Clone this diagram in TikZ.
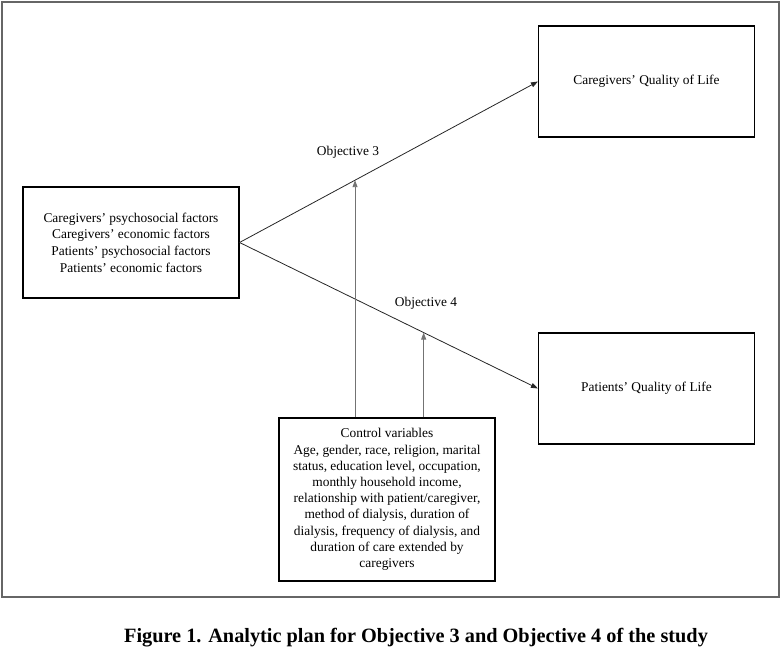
\documentclass[tikz,border=0pt]{standalone}
\usepackage{fontspec}
\setmainfont{Liberation Serif}
\usetikzlibrary{arrows.meta}
\begin{document}
\begin{tikzpicture}[x=1pt,y=-1pt,
  box/.style={draw=black,line width=1.1pt,minimum width=216pt,align=center,inner sep=0pt,font=\fontsize{13.4}{16.7}\selectfont},
  link/.style={draw=black!85,line width=0.8pt,-{Triangle[length=7pt,width=5pt]}},
  ctrl/.style={draw=black!55,line width=0.9pt,-{Triangle[length=7pt,width=5pt]}},
  lbl/.style={font=\fontsize{13.4}{15}\selectfont,inner sep=0pt}]
\useasboundingbox (0,0) rectangle (782,650);
\draw[black!60,line width=1.6pt] (2,2) rectangle (779,597);
\node[box,minimum height=111pt] (L) at (131,242.5) {Caregivers’ psychosocial factors\\Caregivers’ economic factors\\Patients’ psychosocial factors\\Patients’ economic factors};
\node[box,minimum height=111pt] (T) at (646.5,81.5) {Caregivers’ Quality of Life};
\node[box,minimum height=111pt] (B) at (646.5,388.5) {Patients’ Quality of Life};
\node[box,minimum height=163pt,font=\fontsize{13.4}{16.2}\selectfont] (C) at (387,499.5) {Control variables\\Age, gender, race, religion, marital\\status, education level, occupation,\\monthly household income,\\relationship with patient/caregiver,\\method of dialysis, duration of\\dialysis, frequency of dialysis, and\\duration of care extended by\\caregivers};
\draw[link] (L.east) -- (T.west) coordinate[pos=0.387] (p3);
\draw[link] (L.east) -- (B.west) coordinate[pos=0.617] (p4);
\draw[ctrl] (p3 |- C.north) -- (p3);
\draw[ctrl] (p4 |- C.north) -- (p4);
\node[lbl] (o3) at (348,152) {Objective 3};
\node[lbl] (o4) at (426,303) {Objective 4};
\node[font=\bfseries\fontsize{20.3}{22}\selectfont,inner sep=0pt] (cap) at (416,638) {Figure 1. Analytic plan for Objective 3 and Objective 4 of the study};
\end{tikzpicture}
\end{document}
